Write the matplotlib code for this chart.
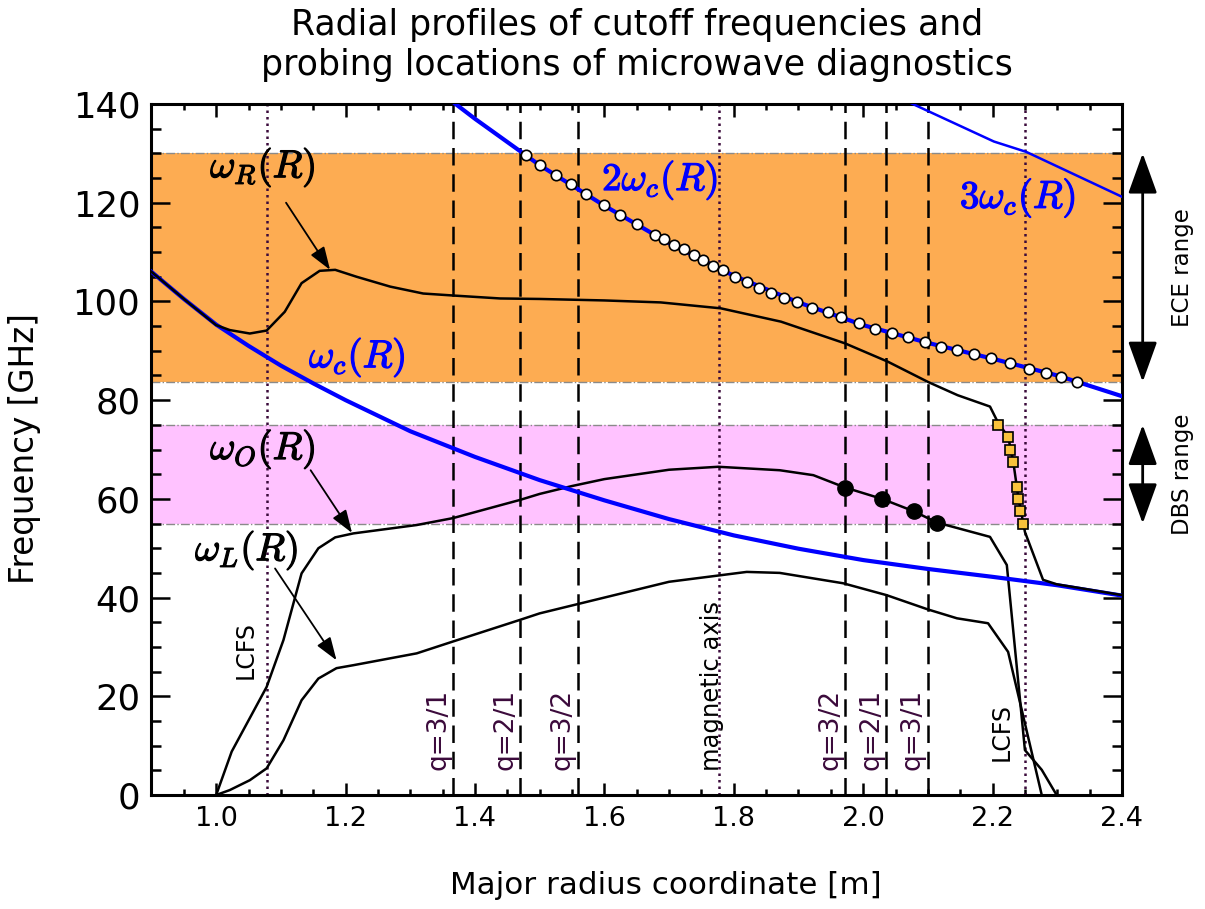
import matplotlib
matplotlib.use('Agg')
import matplotlib.pyplot as plt
import matplotlib.patheffects as pe
from matplotlib.ticker import MultipleLocator

plt.rcParams['font.family'] = 'DejaVu Sans'
plt.rcParams['mathtext.fontset'] = 'cm'

# cyclotron frequency and harmonics [GHz] vs R [m]
R_wc = [0.90, 0.95, 1.00, 1.05, 1.10, 1.15, 1.20, 1.30, 1.40, 1.50, 1.60, 1.70, 1.80, 1.90, 2.00, 2.10, 2.20, 2.30, 2.40]
wc = [106.0, 100.5, 95.3, 91.0, 87.0, 83.4, 80.0, 73.7, 68.5, 63.8, 59.7, 55.9, 52.6, 49.9, 47.6, 45.8, 44.2, 42.5, 40.4]

R_2wc = [1.35, 1.40, 1.50, 1.60, 1.70, 1.80, 1.90, 2.00, 2.10, 2.20, 2.30, 2.40]
wc2 = [142.0, 137.0, 127.6, 119.4, 111.8, 105.2, 99.8, 95.2, 91.6, 88.4, 85.0, 80.8]

R_3wc = [2.075, 2.202, 2.252, 2.40]
wc3 = [140.1, 132.4, 130.3, 121.2]

# right-hand cutoff
R_wR = [0.90, 0.95, 1.00, 1.021, 1.052, 1.078, 1.106, 1.132, 1.160, 1.184, 1.217, 1.269, 1.320, 1.366,
        1.439, 1.50, 1.60, 1.687, 1.780, 1.873, 1.972, 2.038, 2.100, 2.146, 2.196, 2.209, 2.224, 2.232,
        2.240, 2.247, 2.250, 2.278, 2.299, 2.35, 2.40]
wR = [106.0, 100.5, 95.2, 94.2, 93.5, 94.1, 97.9, 103.7, 106.2, 106.4, 105.0, 103.0, 101.6, 101.2,
      100.6, 100.5, 100.2, 99.8, 98.6, 95.9, 91.5, 87.8, 83.7, 81.0, 78.7, 75.3, 72.6, 67.5,
      60.1, 55.4, 53.3, 43.6, 42.7, 41.6, 40.5]

# O-mode (plasma) cutoff
R_wO = [1.000, 1.024, 1.078, 1.104, 1.132, 1.158, 1.184, 1.212, 1.310, 1.366, 1.470, 1.50, 1.55, 1.60,
        1.70, 1.776, 1.871, 1.923, 1.972, 2.029, 2.078, 2.114, 2.196, 2.222, 2.250, 2.276, 2.299]
wO = [0.0, 8.8, 21.9, 31.4, 44.9, 50.0, 52.2, 53.0, 54.7, 56.1, 59.8, 61.0, 62.6, 64.0,
      65.9, 66.5, 65.8, 64.8, 62.3, 60.0, 57.5, 55.2, 52.3, 46.6, 9.1, 5.1, 0.0]

# left-hand cutoff
R_wL = [1.000, 1.021, 1.052, 1.078, 1.104, 1.132, 1.158, 1.186, 1.212, 1.310, 1.366, 1.470, 1.50, 1.60,
        1.70, 1.82, 1.871, 1.969, 2.036, 2.100, 2.145, 2.193, 2.224, 2.276]
wL = [0.0, 1.0, 3.0, 5.4, 11.1, 19.2, 23.6, 25.7, 26.3, 28.7, 31.1, 35.5, 36.8, 40.0,
      43.2, 45.2, 45.0, 42.9, 40.5, 37.6, 35.8, 34.8, 29.0, 0.0]

# ECE channels on 2wc
ece_R = [1.479, 1.501, 1.526, 1.549, 1.572, 1.599, 1.624, 1.651, 1.678, 1.692, 1.707, 1.723, 1.738,
         1.752, 1.768, 1.784, 1.802, 1.820, 1.839, 1.858, 1.878, 1.898, 1.921, 1.945, 1.966, 1.993,
         2.019, 2.044, 2.070, 2.095, 2.120, 2.145, 2.171, 2.197, 2.227, 2.257, 2.282, 2.306, 2.331]
ece_f = [129.7, 127.6, 125.6, 123.7, 121.7, 119.5, 117.6, 115.6, 113.5, 112.6, 111.4, 110.6, 109.5,
         108.4, 107.2, 106.4, 105.0, 104.0, 102.8, 101.8, 100.7, 99.8, 98.6, 97.8, 96.9, 95.6,
         94.5, 93.7, 92.8, 91.8, 90.8, 90.2, 89.3, 88.6, 87.5, 86.3, 85.6, 84.7, 83.7]

# DBS channels
dbsO_R = [1.972, 2.029, 2.078, 2.114]
dbsO_f = [62.3, 60.0, 57.5, 55.2]
dbsX_R = [2.209, 2.224, 2.227, 2.232, 2.237, 2.240, 2.243, 2.247]
dbsX_f = [75.0, 72.5, 70.0, 67.5, 62.5, 60.0, 57.5, 55.0]

ece_band = [83.7, 130.0]
dbs_band = [55.0, 75.0]

lcfs_R = [1.078, 2.250]
axis_R = 1.777
q_R = [1.366, 1.470, 1.559, 1.972, 2.036, 2.100]
q_lab = ['q=3/1', 'q=2/1', 'q=3/2', 'q=3/2', 'q=2/1', 'q=3/1']

purple = '#3b0a3b'
blue = '#0000ff'

fig = plt.figure(figsize=(12.05, 9.09), dpi=100)
ax = fig.add_axes([0.1257, 0.1254, 0.8054, 0.7602])
ax.set_xlim(0.9, 2.4)
ax.set_ylim(0, 140)

ax.axhspan(ece_band[0], ece_band[1], color='#fdac52', lw=0, zorder=0)
ax.axhspan(dbs_band[0], dbs_band[1], color='#ffc2ff', lw=0, zorder=0)
for yv in ece_band + dbs_band:
    ax.axhline(yv, color='#8a8a8a', lw=1.0, ls='-.', zorder=1)

for r in q_R:
    ax.axvline(r, color='k', lw=1.8, ls=(0, (7, 3.5)), zorder=2)
for r in lcfs_R + [axis_R]:
    ax.axvline(r, color=purple, lw=1.8, ls=(0, (1, 1.6)), zorder=2)

ax.plot(R_wL, wL, color='k', lw=1.8, zorder=3)
ax.plot(R_wO, wO, color='k', lw=1.8, zorder=3)
ax.plot(R_wc, wc, color=blue, lw=3, zorder=3)
ax.plot(R_2wc, wc2, color=blue, lw=3, zorder=3)
ax.plot(R_3wc, wc3, color=blue, lw=1.8, zorder=3)
ax.plot(R_wR, wR, color='k', lw=1.8, zorder=4)

ax.plot(ece_R, ece_f, 'o', ms=7.5, mfc='white', mec='k', mew=1.2, zorder=5)
ax.plot(dbsO_R, dbsO_f, 'o', ms=11, color='k', zorder=5)
ax.plot(dbsX_R, dbsX_f, 's', ms=7.5, mfc='#f9c23c', mec='k', mew=1.2, zorder=5)

# curve labels
def mlabel(x, y, s, c='k'):
    ax.text(x, y, s, fontsize=28, ha='center', va='center', color=c,
            path_effects=[pe.withStroke(linewidth=0.9, foreground=c)])

mlabel(1.072, 127.2, r'$\omega_R(R)$')
mlabel(1.072, 70.1, r'$\omega_O(R)$')
mlabel(1.047, 49.6, r'$\omega_L(R)$')
mlabel(1.218, 88.7, r'$\omega_c(R)$', blue)
mlabel(1.686, 124.6, r'$2\omega_c(R)$', blue)
mlabel(2.239, 121.0, r'$3\omega_c(R)$', blue)

arr = dict(arrowstyle='-|>,head_length=1.0,head_width=0.35', mutation_scale=14, lw=1.3, color='k',
           shrinkA=0, shrinkB=0)
ax.annotate('', xy=(1.176, 106.4), xytext=(1.108, 120.0), arrowprops=arr)
ax.annotate('', xy=(1.21, 53.1), xytext=(1.146, 65.8), arrowprops=arr)
ax.annotate('', xy=(1.186, 27.3), xytext=(1.091, 45.9), arrowprops=arr)

# vertical line labels
for r, lab in zip(q_R, q_lab):
    ax.text(r - 0.003, 13.2, lab, rotation=90, ha='right', va='center', fontsize=19, color=purple)
ax.text(1.046, 29.4, 'LCFS', rotation=90, ha='center', va='center', fontsize=17)
ax.text(2.214, 12.8, 'LCFS', rotation=90, ha='center', va='center', fontsize=17)
ax.text(1.767, 22.0, 'magnetic axis', rotation=90, ha='center', va='center', fontsize=17.5)

# diagnostic ranges outside the frame
rng = dict(arrowstyle='<|-|>,head_length=1.25,head_width=0.45', mutation_scale=20, lw=2, color='k',
           shrinkA=0, shrinkB=0)
ax.annotate('', xy=(2.432, ece_band[1]), xytext=(2.432, ece_band[0]), arrowprops=rng, annotation_clip=False)
ax.annotate('', xy=(2.432, dbs_band[1]), xytext=(2.432, dbs_band[0]), arrowprops=rng, annotation_clip=False)
ax.text(2.493, sum(ece_band) / 2, 'ECE range', rotation=90, ha='center', va='center', fontsize=16.5, clip_on=False)
ax.text(2.493, sum(dbs_band) / 2, 'DBS range', rotation=90, ha='center', va='center', fontsize=16.5, clip_on=False)

ax.xaxis.set_major_locator(MultipleLocator(0.2))
ax.xaxis.set_minor_locator(MultipleLocator(0.05))
ax.yaxis.set_major_locator(MultipleLocator(20))
ax.yaxis.set_minor_locator(MultipleLocator(5))
ax.tick_params(which='both', direction='in', top=True, right=True, width=1.8)
ax.tick_params(axis='y', which='major', length=14, labelsize=25.5, pad=8)
ax.tick_params(axis='y', which='minor', length=7)
ax.tick_params(axis='x', which='major', length=9, labelsize=19.5, pad=8)
ax.tick_params(axis='x', which='minor', length=4)
for s in ax.spines.values():
    s.set_linewidth(2.2)

fig.text(0.5284, 0.9505, 'Radial profiles of cutoff frequencies and\nprobing locations of microwave diagnostics',
         ha='center', va='center', fontsize=25, linespacing=1.2)
fig.text(666 / 1205, 1 - 885 / 909, 'Major radius coordinate [m]', ha='center', va='center', fontsize=22.3)
fig.text(25 / 1205, 1 - 449 / 909, 'Frequency [GHz]', ha='center', va='center', rotation=90, fontsize=23.5)

fig.savefig('out.png', dpi=100)
